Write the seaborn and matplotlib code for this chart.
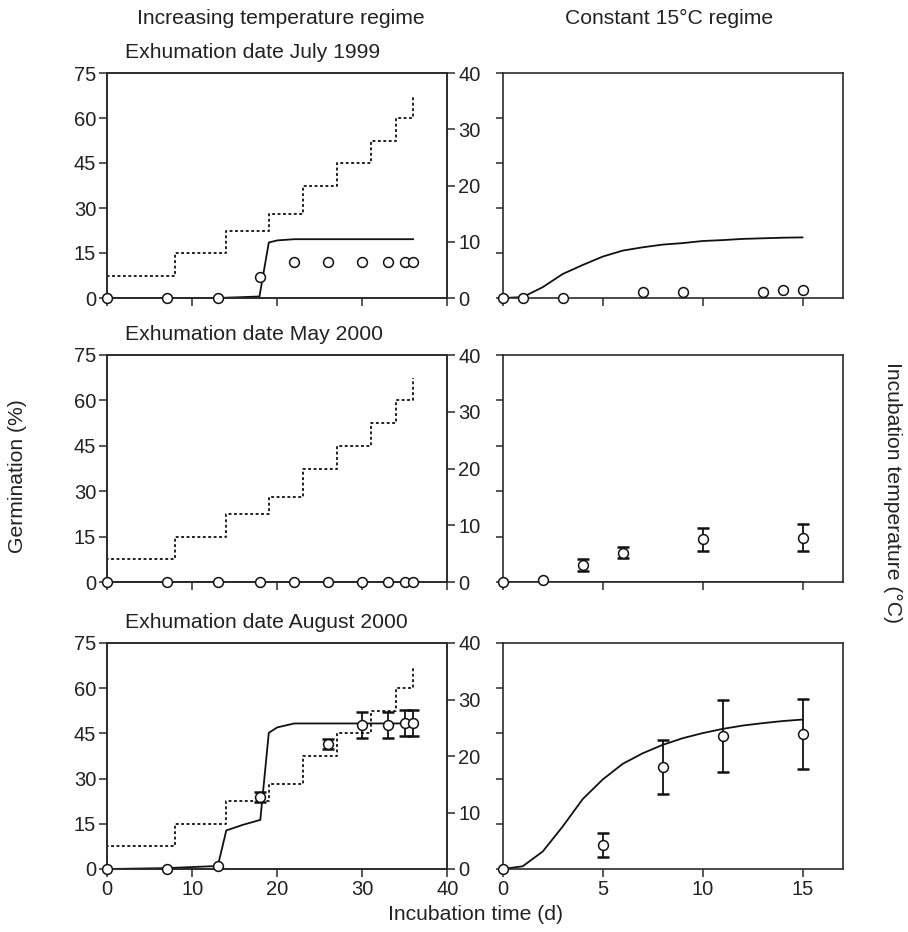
import matplotlib
matplotlib.use("Agg")
import matplotlib.pyplot as plt
import seaborn as sns

# ---------------- data ----------------
# Temperature regime (increasing): step start days and temperatures (deg C)
temp_days = [0, 0, 8, 14, 19, 23, 27, 31, 34, 36]
temp_vals = [0, 4, 8, 12, 15, 20, 24, 28, 32, 36]

# Increasing temperature regime - observed germination (%)
inc_days = [0, 7, 13, 18, 22, 26, 30, 33, 35, 36]
jul99_obs = [0, 0, 0, 7, 12, 12, 12, 12, 12, 12]
may00_obs = [0, 0, 0, 0, 0, 0, 0, 0, 0, 0]
aug00_days = [0, 7, 13, 18, 26, 30, 33, 35, 36]
aug00_obs = [0, 0, 1, 24, 41.4, 47.8, 47.8, 48.5, 48.5]
aug00_err = [0, 0, 0, 1.7, 1.7, 4.2, 4.3, 4.3, 4.3]

# Increasing temperature regime - model curves
jul99_mod_x = [0, 13, 17.9, 19, 20, 22, 36]
jul99_mod_y = [0, 0, 0.5, 18.5, 19.2, 19.6, 19.6]
may00_mod_x = [0, 36]
may00_mod_y = [0, 0]
aug00_mod_x = [0, 7, 13, 14, 16, 18, 19, 20, 22, 36]
aug00_mod_y = [0, 0.3, 1.0, 12.8, 14.7, 16.3, 45.2, 47.0, 48.3, 48.3]

# Constant 15 C regime - observed
c_jul99_days = [0, 1, 3, 7, 9, 13, 14, 15]
c_jul99_obs = [0, 0, 0, 1.9, 1.9, 1.9, 2.8, 2.8]
c_may00_days = [0, 2, 4, 6, 10, 15]
c_may00_obs = [0, 0.8, 5.5, 9.7, 14.1, 14.7]
c_may00_err = [0, 0, 2.0, 1.8, 3.7, 4.3]
c_aug00_days = [0, 5, 8, 11, 15]
c_aug00_obs = [0, 8.0, 33.8, 44.1, 44.8]
c_aug00_err = [0, 3.9, 9.0, 12.0, 11.5]

# Constant 15 C regime - model curves
c_mod_x = [0, 1, 2, 3, 4, 5, 6, 7, 8, 9, 10, 11, 12, 13, 14, 15]
c_jul99_mod = [0, 0.3, 3.6, 8.0, 11.0, 13.8, 15.8, 16.9, 17.8, 18.3, 19.0, 19.3, 19.7, 19.9, 20.1, 20.2]
c_may00_mod_x = [0, 15]
c_may00_mod = [0, 0]
c_aug00_mod = [0, 0.9, 5.8, 14.1, 23.2, 29.7, 34.9, 38.4, 41.2, 43.4, 45.1, 46.5, 47.6, 48.4, 49.1, 49.6]

panel_titles = ["Exhumation date July 1999", "Exhumation date May 2000",
                "Exhumation date August 2000"]

# ---------------- style ----------------
sns.set_theme(style="ticks")
plt.rcParams["font.family"] = ["Liberation Sans", "DejaVu Sans"]
FS = 15.2
TFS = 14.5
DARK = "#2b2b2b"
plt.rcParams.update({
    "axes.edgecolor": DARK, "axes.linewidth": 1.2,
    "xtick.color": DARK, "ytick.color": DARK,
    "xtick.labelcolor": "#222222", "ytick.labelcolor": "#222222",
    "xtick.major.size": 6, "ytick.major.size": 6,
    "xtick.major.width": 1.1, "ytick.major.width": 1.1,
    "xtick.labelsize": TFS, "ytick.labelsize": TFS,
    "xtick.major.pad": 2, "ytick.major.pad": 2,
})

W, H = 908, 932
fig = plt.figure(figsize=(W / 100, H / 100), dpi=100)


def axes_px(x0, y0, x1, y1):
    return fig.add_axes([x0 / W, 1 - y1 / H, (x1 - x0) / W, (y1 - y0) / H])


rows = [(73, 298), (355, 582), (643, 869)]

inc_obs = [(inc_days, jul99_obs, None), (inc_days, may00_obs, None),
           (aug00_days, aug00_obs, aug00_err)]
inc_mod = [(jul99_mod_x, jul99_mod_y), (may00_mod_x, may00_mod_y),
           (aug00_mod_x, aug00_mod_y)]
con_obs = [(c_jul99_days, c_jul99_obs, None), (c_may00_days, c_may00_obs, c_may00_err),
           (c_aug00_days, c_aug00_obs, c_aug00_err)]
con_mod = [(c_mod_x, c_jul99_mod), (c_may00_mod_x, c_may00_mod),
           (c_mod_x, c_aug00_mod)]

dotted = (0, (1.6, 1.4))


def draw_obs(ax, x, y, err):
    if err is not None:
        ex = [a for a, e in zip(x, err) if e > 0]
        ey = [b for b, e in zip(y, err) if e > 0]
        ee = [e for e in err if e > 0]
        ax.errorbar(ex, ey, yerr=ee, fmt="none", ecolor="#111111", elinewidth=1.3,
                    capsize=4.5, capthick=1.8, zorder=3)
    sns.scatterplot(x=x, y=y, ax=ax, marker="o", s=50, color="white",
                    edgecolor="#111111", linewidth=1.1, zorder=4, clip_on=False,
                    legend=False)


for i, (top, bot) in enumerate(rows):
    last = i == len(rows) - 1
    # ----- increasing regime -----
    axL = axes_px(107.3, top, 447.3, bot)
    axT = axL.twinx()
    sns.lineplot(x=temp_days, y=temp_vals, ax=axT, color="#111111", lw=1.3,
                 linestyle=dotted, drawstyle="steps-post", estimator=None,
                 sort=False, zorder=1)
    mx, my = inc_mod[i]
    sns.lineplot(x=mx, y=my, ax=axL, color="#111111", lw=1.3, estimator=None,
                 sort=False, zorder=2)
    ox, oy, oe = inc_obs[i]
    draw_obs(axL, ox, oy, oe)
    axL.set_zorder(axT.get_zorder() + 1)
    axL.patch.set_visible(False)

    axL.set_xlim(0, 40)
    axL.set_ylim(0, 75)
    axL.set_xticks([0, 10, 20, 30, 40])
    axL.set_yticks([0, 15, 30, 45, 60, 75])
    axT.set_ylim(0, 40)
    axT.set_yticks([0, 10, 20, 30, 40])
    axL.set_xlabel("")
    axL.set_ylabel("")
    axT.set_ylabel("")
    if not last:
        axL.tick_params(axis="x", labelbottom=False)
    axL.text(0.053, 1 + 21 / (bot - top), panel_titles[i], transform=axL.transAxes,
             ha="left", va="center", fontsize=FS, color="#222222")

    # ----- constant regime -----
    axR = axes_px(502.7, top, 842.7, bot)
    mx, my = con_mod[i]
    sns.lineplot(x=mx, y=my, ax=axR, color="#111111", lw=1.3, estimator=None,
                 sort=False, zorder=2)
    ox, oy, oe = con_obs[i]
    draw_obs(axR, ox, oy, oe)
    axR.set_xlim(0, 17)
    axR.set_ylim(0, 75)
    axR.set_xticks([0, 5, 10, 15])
    axR.set_yticks([0, 15, 30, 45, 60, 75])
    axR.tick_params(axis="y", labelleft=False, length=5)
    axR.set_xlabel("")
    axR.set_ylabel("")
    if not last:
        axR.tick_params(axis="x", labelbottom=False)

fig.text(281 / W, 1 - 18 / H, "Increasing temperature regime", ha="center",
         va="center", fontsize=FS, color="#222222")
fig.text(669 / W, 1 - 18 / H, "Constant 15\u00b0C regime", ha="center",
         va="center", fontsize=FS, color="#222222")
fig.text(18 / W, 1 - 476 / H, "Germination (%)", rotation=90, ha="center",
         va="center", fontsize=FS, color="#222222")
fig.text(893 / W, 1 - 493 / H, "Incubation temperature (\u00b0C)", rotation=270,
         ha="center", va="center", fontsize=FS, color="#222222")
fig.text(476 / W, 1 - 915 / H, "Incubation time (d)", ha="center", va="center",
         fontsize=FS, color="#222222")

fig.savefig("out.png", dpi=100)
